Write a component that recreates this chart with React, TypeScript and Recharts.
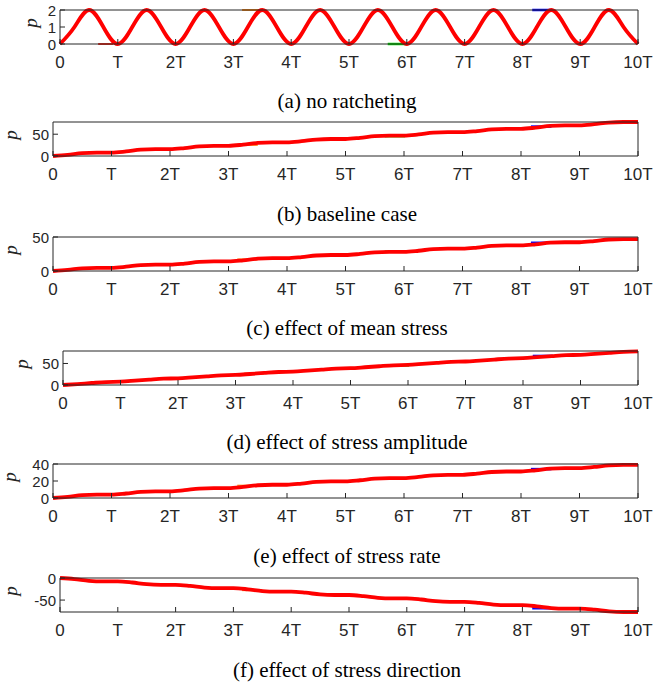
import React from "react";
import { LineChart, Line, XAxis, YAxis } from "recharts";

// sample positions, in periods T
const T_POS = [
  0, 0.25, 0.5, 0.75, 1, 1.25, 1.5, 1.75, 2, 2.25, 2.5, 2.75, 3, 3.25, 3.5, 3.75, 4, 4.25, 4.5, 4.75, 5,
  5.25, 5.5, 5.75, 6, 6.25, 6.5, 6.75, 7, 7.25, 7.5, 7.75, 8, 8.25, 8.5, 8.75, 9, 9.25, 9.5, 9.75, 10,
];

const P_NO_RATCHET = [
  0, 1, 2, 1, 0, 1, 2, 1, 0, 1, 2, 1, 0, 1, 2, 1, 0, 1, 2, 1, 0,
  1, 2, 1, 0, 1, 2, 1, 0, 1, 2, 1, 0, 1, 2, 1, 0, 1, 2, 1, 0,
];
const P_BASELINE = [
  0, 2.7, 6.6, 7.8, 7.8, 10.5, 14.4, 15.6, 15.6, 18.3, 22.2, 23.4, 23.4, 26.1, 30.0, 31.2, 31.2, 33.9, 37.8, 39.0, 39.0,
  41.7, 45.6, 46.8, 46.8, 49.5, 53.4, 54.6, 54.6, 57.3, 61.2, 62.4, 62.4, 65.1, 69.0, 70.2, 70.2, 72.9, 76.8, 78.0, 78.0,
];
const P_MEAN_STRESS = [
  0, 1.6, 4.0, 4.7, 4.7, 6.3, 8.7, 9.4, 9.4, 11.0, 13.4, 14.1, 14.1, 15.7, 18.1, 18.8, 18.8, 20.4, 22.8, 23.5, 23.5,
  25.1, 27.5, 28.2, 28.2, 29.8, 32.2, 32.9, 32.9, 34.5, 36.9, 37.6, 37.6, 39.2, 41.6, 42.3, 42.3, 43.9, 46.3, 47.0, 47.0,
];
const P_AMPLITUDE = [
  0, 2.2, 4.6, 6.8, 7.8, 10.0, 12.4, 14.6, 15.6, 17.8, 20.2, 22.4, 23.4, 25.6, 28.0, 30.2, 31.2, 33.4, 35.8, 38.0, 39.0,
  41.2, 43.6, 45.8, 46.8, 49.0, 51.4, 53.6, 54.6, 56.8, 59.2, 61.4, 62.4, 64.6, 67.0, 69.2, 70.2, 72.4, 74.8, 77.0, 78.0,
];
const P_RATE = [
  0, 1.4, 3.3, 3.9, 3.9, 5.3, 7.2, 7.8, 7.8, 9.2, 11.1, 11.7, 11.7, 13.1, 15.0, 15.6, 15.6, 17.0, 18.9, 19.5, 19.5,
  20.9, 22.8, 23.4, 23.4, 24.8, 26.7, 27.3, 27.3, 28.7, 30.6, 31.2, 31.2, 32.6, 34.5, 35.1, 35.1, 36.5, 38.4, 39.0, 39.0,
];
const P_DIRECTION = [
  0, -2.5, -6.4, -7.7, -7.7, -10.2, -14.1, -15.4, -15.4, -17.9, -21.8, -23.1, -23.1, -25.6, -29.5, -30.8, -30.8, -33.3, -37.2, -38.5, -38.5,
  -41.0, -44.9, -46.2, -46.2, -48.7, -52.6, -53.9, -53.9, -56.4, -60.3, -61.6, -61.6, -64.1, -68.0, -69.3, -69.3, -71.8, -75.7, -77.0, -77.0,
];

// short coloured marks, mostly hidden under the red curve
const ORANGE_T = [3.15, 3.5];
const GREEN_T = [5.67, 6.02];
const BLUE_T = [8.17, 8.52];
const RED_MARK_T = [0.66, 0.92];
const ORANGE_P = [2, 25.5, 17, 26.5, 14.5, -27.5];
const GREEN_P = [0, 45.5, 28.5, 45.5, 23, -46.5];
const BLUE_P = [2, 67.5, 41.5, 67.5, 34, -68.5];

const X_TICKS = [0, 1, 2, 3, 4, 5, 6, 7, 8, 9, 10];
const X_TICK_LABELS = ["0", "T", "2T", "3T", "4T", "5T", "6T", "7T", "8T", "9T", "10T"];

const Y_TICKS = [[0, 1, 2], [0, 50], [0, 50], [0, 50], [0, 20, 40], [-50, 0]];
const Y_DOMAINS = [[0, 2], [0, 78], [0, 50], [0, 79], [0, 40], [-77, 0]];

const SERIES = [P_NO_RATCHET, P_BASELINE, P_MEAN_STRESS, P_AMPLITUDE, P_RATE, P_DIRECTION];
const TITLES = [
  "(a) no ratcheting",
  "(b) baseline case",
  "(c) effect of mean stress",
  "(d) effect of stress amplitude",
  "(e) effect of stress rate",
  "(f) effect of stress direction",
];

// box left edge, box top, y-label x, caption centre y
const LAYOUT = [
  { left: 60, top: 10, labelX: 31, titleY: 101 },
  { left: 53, top: 122, labelX: 11, titleY: 214 },
  { left: 53, top: 237, labelX: 11, titleY: 328 },
  { left: 63, top: 351, labelX: 22, titleY: 442 },
  { left: 53, top: 464, labelX: 10, titleY: 556 },
  { left: 60, top: 578, labelX: 11, titleY: 670 },
];

const AXIS_COLOR = "#262626";
const SANS = "'Liberation Sans', Arial, Helvetica, sans-serif";
const SERIF = "'Liberation Serif', 'Times New Roman', serif";
const PLOT_RIGHT = 638;
const PLOT_H = 34;
const TOP_PAD = 12;
const BOTTOM_PAD = 30;

function BottomTick(props: any) {
  const { x, y, payload } = props;
  return (
    <g>
      <line x1={x} x2={x} y1={y} y2={y - 5} stroke={AXIS_COLOR} />
      <text
        x={x}
        y={y + 18}
        textAnchor="middle"
        dominantBaseline="central"
        fontSize={17}
        fontFamily={SANS}
        fill={AXIS_COLOR}
      >
        {X_TICK_LABELS[Math.round(payload.value)]}
      </text>
    </g>
  );
}

function TopTick(props: any) {
  const { x, y } = props;
  return <line x1={x} x2={x} y1={y} y2={y + 5} stroke={AXIS_COLOR} />;
}

function LeftTick(props: any) {
  const { x, y, payload } = props;
  return (
    <g>
      <line x1={x} x2={x + 5} y1={y} y2={y} stroke={AXIS_COLOR} />
      <text
        x={x - 4}
        y={y}
        textAnchor="end"
        dominantBaseline="central"
        fontSize={15}
        fontFamily={SANS}
        fill={AXIS_COLOR}
      >
        {payload.value}
      </text>
    </g>
  );
}

function RightTick(props: any) {
  const { x, y } = props;
  return <line x1={x} x2={x - 5} y1={y} y2={y} stroke={AXIS_COLOR} />;
}

function Panel({ i }: { i: number }) {
  const { left, top, labelX, titleY } = LAYOUT[i];
  const main = T_POS.map((t, k) => ({ t, p: SERIES[i][k] }));
  const orange = ORANGE_T.map((t) => ({ t, p: ORANGE_P[i] }));
  const green = GREEN_T.map((t) => ({ t, p: GREEN_P[i] }));
  const blue = BLUE_T.map((t) => ({ t, p: BLUE_P[i] }));
  const redMark = RED_MARK_T.map((t) => ({ t, p: 0 }));
  const axisLine = { stroke: AXIS_COLOR, strokeWidth: 1 };

  return (
    <>
      <div style={{ position: "absolute", left: 0, top: top - TOP_PAD }}>
        <LineChart
          width={654}
          height={TOP_PAD + PLOT_H + BOTTOM_PAD}
          margin={{ top: 0, right: 0, bottom: 0, left: 0 }}
        >
          <XAxis
            xAxisId="b"
            dataKey="t"
            type="number"
            domain={[0, 10]}
            ticks={X_TICKS}
            height={BOTTOM_PAD}
            tickSize={0}
            tickMargin={0}
            tickLine={false}
            axisLine={axisLine}
            tick={BottomTick}
            interval={0}
          />
          <XAxis
            xAxisId="t"
            orientation="top"
            dataKey="t"
            type="number"
            domain={[0, 10]}
            ticks={X_TICKS}
            height={TOP_PAD}
            tickSize={0}
            tickMargin={0}
            tickLine={false}
            axisLine={axisLine}
            tick={TopTick}
            interval={0}
          />
          <YAxis
            yAxisId="l"
            type="number"
            domain={Y_DOMAINS[i]}
            ticks={Y_TICKS[i]}
            width={left}
            tickSize={0}
            tickMargin={0}
            tickLine={false}
            axisLine={axisLine}
            tick={LeftTick}
            interval={0}
          />
          <YAxis
            yAxisId="r"
            orientation="right"
            type="number"
            domain={Y_DOMAINS[i]}
            ticks={Y_TICKS[i]}
            width={654 - PLOT_RIGHT}
            tickSize={0}
            tickMargin={0}
            tickLine={false}
            axisLine={axisLine}
            tick={RightTick}
            interval={0}
          />
          {i === 0 && (
            <Line
              xAxisId="b"
              yAxisId="l"
              data={redMark}
              dataKey="p"
              stroke="#ff2a1a"
              strokeWidth={2}
              dot={false}
              isAnimationActive={false}
            />
          )}
          <Line xAxisId="b" yAxisId="l" data={orange} dataKey="p" stroke="#ff8c1a" strokeWidth={2} dot={false} isAnimationActive={false} />
          <Line xAxisId="b" yAxisId="l" data={green} dataKey="p" stroke="#00e000" strokeWidth={2.5} dot={false} isAnimationActive={false} />
          <Line xAxisId="b" yAxisId="l" data={blue} dataKey="p" stroke="#0000ff" strokeWidth={2.5} dot={false} isAnimationActive={false} />
          <Line
            xAxisId="b"
            yAxisId="l"
            data={main}
            dataKey="p"
            type={i === 0 ? "natural" : "monotone"}
            stroke="#ff0000"
            strokeWidth={3.8}
            dot={false}
            isAnimationActive={false}
          />
        </LineChart>
      </div>
      <div
        style={{
          position: "absolute",
          left: labelX - 10,
          top: top + PLOT_H / 2 - 14,
          width: 20,
          height: 20,
          lineHeight: "20px",
          textAlign: "center",
          transform: "rotate(-90deg)",
          fontFamily: SERIF,
          fontStyle: "italic",
          fontSize: 19,
          color: AXIS_COLOR,
        }}
      >
        p
      </div>
      <div
        style={{
          position: "absolute",
          left: 0,
          width: 694,
          top: titleY - 12,
          lineHeight: "24px",
          textAlign: "center",
          fontFamily: SERIF,
          fontSize: 21,
          color: "#000",
        }}
      >
        {TITLES[i]}
      </div>
    </>
  );
}

export default function App() {
  return (
    <div
      style={{
        position: "absolute",
        left: 0,
        top: 0,
        width: 654,
        height: 686,
        background: "#fff",
        overflow: "hidden",
      }}
    >
      {TITLES.map((_, i) => (
        <Panel key={i} i={i} />
      ))}
    </div>
  );
}
